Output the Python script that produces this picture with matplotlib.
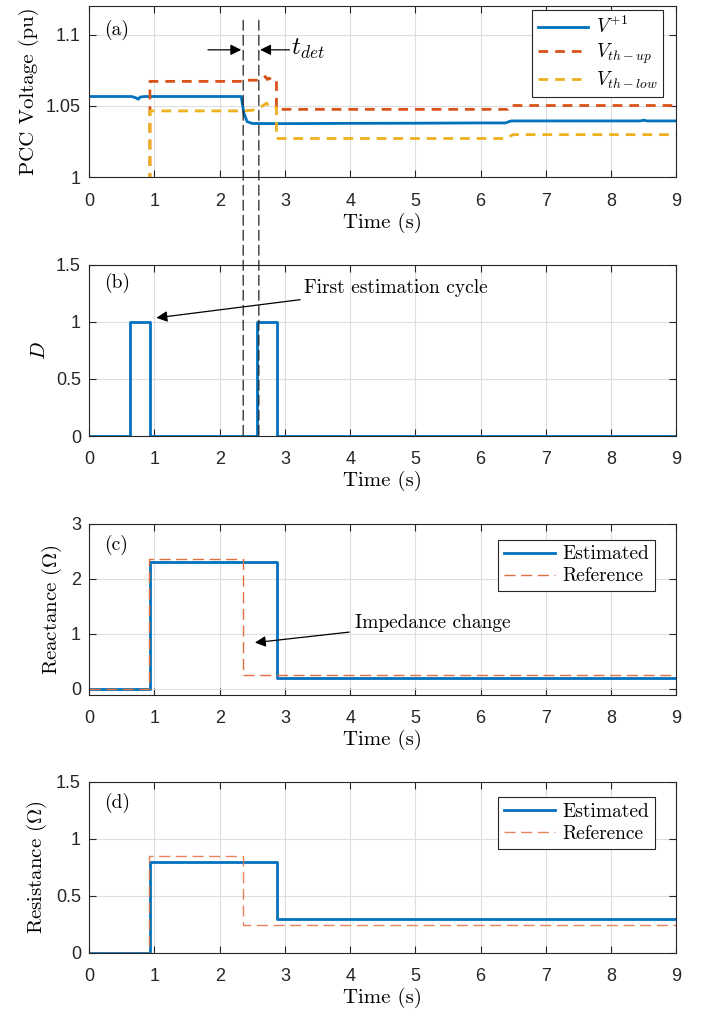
import numpy as np
import matplotlib
matplotlib.use("Agg")
import matplotlib.pyplot as plt
from matplotlib.patches import ConnectionPatch

plt.rcParams["font.family"] = "Liberation Sans"
plt.rcParams["mathtext.fontset"] = "cm"
plt.rcParams["axes.unicode_minus"] = False

SERIF = "cmr10"
BLUE = "#0072BD"
ORANGE = "#D95319"
YELLOW = "#EDB120"
REF = "#E2703F"

# (a) PCC voltage and thresholds
t_v = [0, 0.65, 0.72, 0.75, 0.78, 0.85, 2.33, 2.37, 2.42, 2.5, 3.0, 4.0, 5.0, 6.0, 6.38, 6.47, 7.5, 8.45, 8.5, 8.55, 9]
v_pos = [1.0566, 1.0566, 1.0556, 1.0547, 1.0562, 1.0566, 1.0566, 1.0450, 1.0390, 1.0377, 1.0376, 1.0378, 1.0379, 1.0381, 1.0381, 1.0395, 1.0395, 1.0395, 1.0400, 1.0395, 1.0395]
t_up = [0, 0.93, 0.93, 2.35, 2.36, 2.6, 2.65, 2.7, 2.73, 2.76, 2.8, 2.87, 2.87, 6.42, 6.45, 9]
v_up = [0, 0, 1.0672, 1.0672, 1.0680, 1.0680, 1.0692, 1.0706, 1.0685, 1.0695, 1.0680, 1.0680, 1.0476, 1.0476, 1.0503, 1.0503]
t_low = [0, 0.93, 0.93, 2.35, 2.5, 2.55, 2.62, 2.67, 2.72, 2.76, 2.8, 2.87, 2.87, 6.38, 6.5, 9]
v_low = [0, 0, 1.0465, 1.0465, 1.0470, 1.0478, 1.0490, 1.0505, 1.0520, 1.0495, 1.0490, 1.0490, 1.0272, 1.0272, 1.0299, 1.0299]
t_det = [2.36, 2.60]

# (b) estimation flag D
t_d = [0, 0.625, 0.925, 2.575, 2.88, 9]
d_flag = [0, 1, 0, 1, 0, 0]

# (c) reactance
t_x_est = [0, 0.93, 2.88, 9]
x_est = [0, 2.31, 0.195, 0.195]
t_x_ref = [0, 0.92, 2.355, 9]
x_ref = [0, 2.35, 0.255, 0.255]

# (d) resistance
t_r_est = [0, 0.93, 2.88, 9]
r_est = [0, 0.80, 0.30, 0.30]
t_r_ref = [0, 0.92, 2.355, 9]
r_ref = [0, 0.845, 0.245, 0.245]

fig = plt.figure(figsize=(7.04, 10.15), dpi=100)
L, W, H = 0.1268, 0.8338, 0.1688
ax_a = fig.add_axes([L, 0.8253, W, H])
ax_b = fig.add_axes([L, 0.5704, W, H])
ax_c = fig.add_axes([L, 0.3153, W, H])
ax_d = fig.add_axes([L, 0.0611, W, H])

lab_fs = 15
tick_fs = 13
leg_fs = 14


def style(ax, yticks, ylabels, ylim, ylabel, tag, tag_y):
    ax.set_xlim(0, 9)
    ax.set_ylim(*ylim)
    ax.set_xticks(range(10))
    ax.set_xticklabels([str(i) for i in range(10)], fontsize=tick_fs)
    ax.set_yticks(yticks)
    ax.set_yticklabels(ylabels, fontsize=tick_fs)
    ax.tick_params(direction="in", top=True, right=True, length=5, width=0.8,
                   colors="#262626")
    ax.tick_params(axis="x", pad=11)
    ax.tick_params(axis="y", pad=6)
    ax.grid(True, color="#dedede", lw=0.8)
    ax.set_axisbelow(True)
    for s in ax.spines.values():
        s.set_color("#262626")
        s.set_linewidth(0.8)
    ax.set_xlabel("Time (s)", family=SERIF, fontsize=lab_fs, labelpad=2)
    ax.set_ylabel(ylabel, family=SERIF, fontsize=lab_fs, labelpad=5)
    ax.text(0.025, tag_y, tag, transform=ax.transAxes, family=SERIF,
            fontsize=14, ha="left", va="center")


def add_legend(ax, anchor):
    leg = ax.legend(loc="upper right", bbox_to_anchor=anchor,
                    borderaxespad=0, fancybox=False, edgecolor="#262626",
                    framealpha=1, prop={"family": SERIF, "size": leg_fs},
                    handlelength=2.6, labelspacing=0.2, borderpad=0.3,
                    handletextpad=0.4)
    leg.get_frame().set_linewidth(0.8)


# panel a
ax_a.plot(t_v, v_pos, color=BLUE, lw=2, label="$V^{+1}$")
ax_a.plot(t_up, v_up, color=ORANGE, lw=2, ls=(0, (3.5, 2.5)), label="$V_{th-up}$")
ax_a.plot(t_low, v_low, color=YELLOW, lw=2, ls=(0, (3.5, 2.5)), label="$V_{th-low}$")
style(ax_a, [1, 1.05, 1.1], ["1", "1.05", "1.1"], (1, 1.12),
      "PCC Voltage (pu)", "(a)", 0.86)
add_legend(ax_a, (0.978, 0.975))

ax_a.annotate("", xy=(t_det[0] - 0.03, 1.0893), xytext=(1.82, 1.0893),
              arrowprops=dict(arrowstyle="-|>", color="k", lw=0.9,
                              mutation_scale=16, shrinkA=0, shrinkB=0))
ax_a.annotate("", xy=(t_det[1] + 0.02, 1.0893), xytext=(3.07, 1.0893),
              arrowprops=dict(arrowstyle="-|>", color="k", lw=0.9,
                              mutation_scale=16, shrinkA=0, shrinkB=0))
ax_a.text(3.1, 1.0900, "$t_{det}$", fontsize=18, ha="left", va="center")

# panel b
ax_b.plot(t_d, d_flag, color=BLUE, lw=2, drawstyle="steps-post")
style(ax_b, [0, 0.5, 1, 1.5], ["0", "0.5", "1", "1.5"], (0, 1.5),
      "$D$", "(b)", 0.895)
ax_b.annotate("First estimation cycle", xy=(1.03, 1.035), xytext=(3.3, 1.30),
              family=SERIF, fontsize=14, ha="left", va="center",
              arrowprops=dict(arrowstyle="-|>", color="k", lw=0.9,
                              mutation_scale=16, shrinkA=2, shrinkB=0))

# detection window lines across (a) and (b)
for t in t_det:
    cp = ConnectionPatch(xyA=(t, 1.110), coordsA=ax_a.transData,
                         xyB=(t, 0), coordsB=ax_b.transData,
                         color="#222222", lw=0.9, ls=(0, (8, 4)))
    fig.add_artist(cp)

# panel c
ax_c.plot(t_x_est, x_est, color=BLUE, lw=2, drawstyle="steps-post", label="Estimated")
ax_c.plot(t_x_ref, x_ref, color=REF, lw=1, ls=(0, (8, 4)),
          drawstyle="steps-post", label="Reference")
style(ax_c, [0, 1, 2, 3], ["0", "1", "2", "3"], (-0.11, 3),
      "Reactance ($\\Omega$)", "(c)", 0.877)
add_legend(ax_c, (0.964, 0.906))
ax_c.annotate("Impedance change", xy=(2.54, 0.84), xytext=(4.07, 1.2),
              family=SERIF, fontsize=14, ha="left", va="center",
              arrowprops=dict(arrowstyle="-|>", color="k", lw=0.9,
                              mutation_scale=16, shrinkA=2, shrinkB=0))

# panel d
ax_d.plot(t_r_est, r_est, color=BLUE, lw=2, drawstyle="steps-post", label="Estimated")
ax_d.plot(t_r_ref, r_ref, color=REF, lw=1, ls=(0, (8, 4)), alpha=0.85,
          drawstyle="steps-post", label="Reference")
style(ax_d, [0, 0.5, 1, 1.5], ["0", "0.5", "1", "1.5"], (0, 1.5),
      "Resistance ($\\Omega$)", "(d)", 0.877)
add_legend(ax_d, (0.964, 0.909))

fig.savefig("out.png", dpi=100)
